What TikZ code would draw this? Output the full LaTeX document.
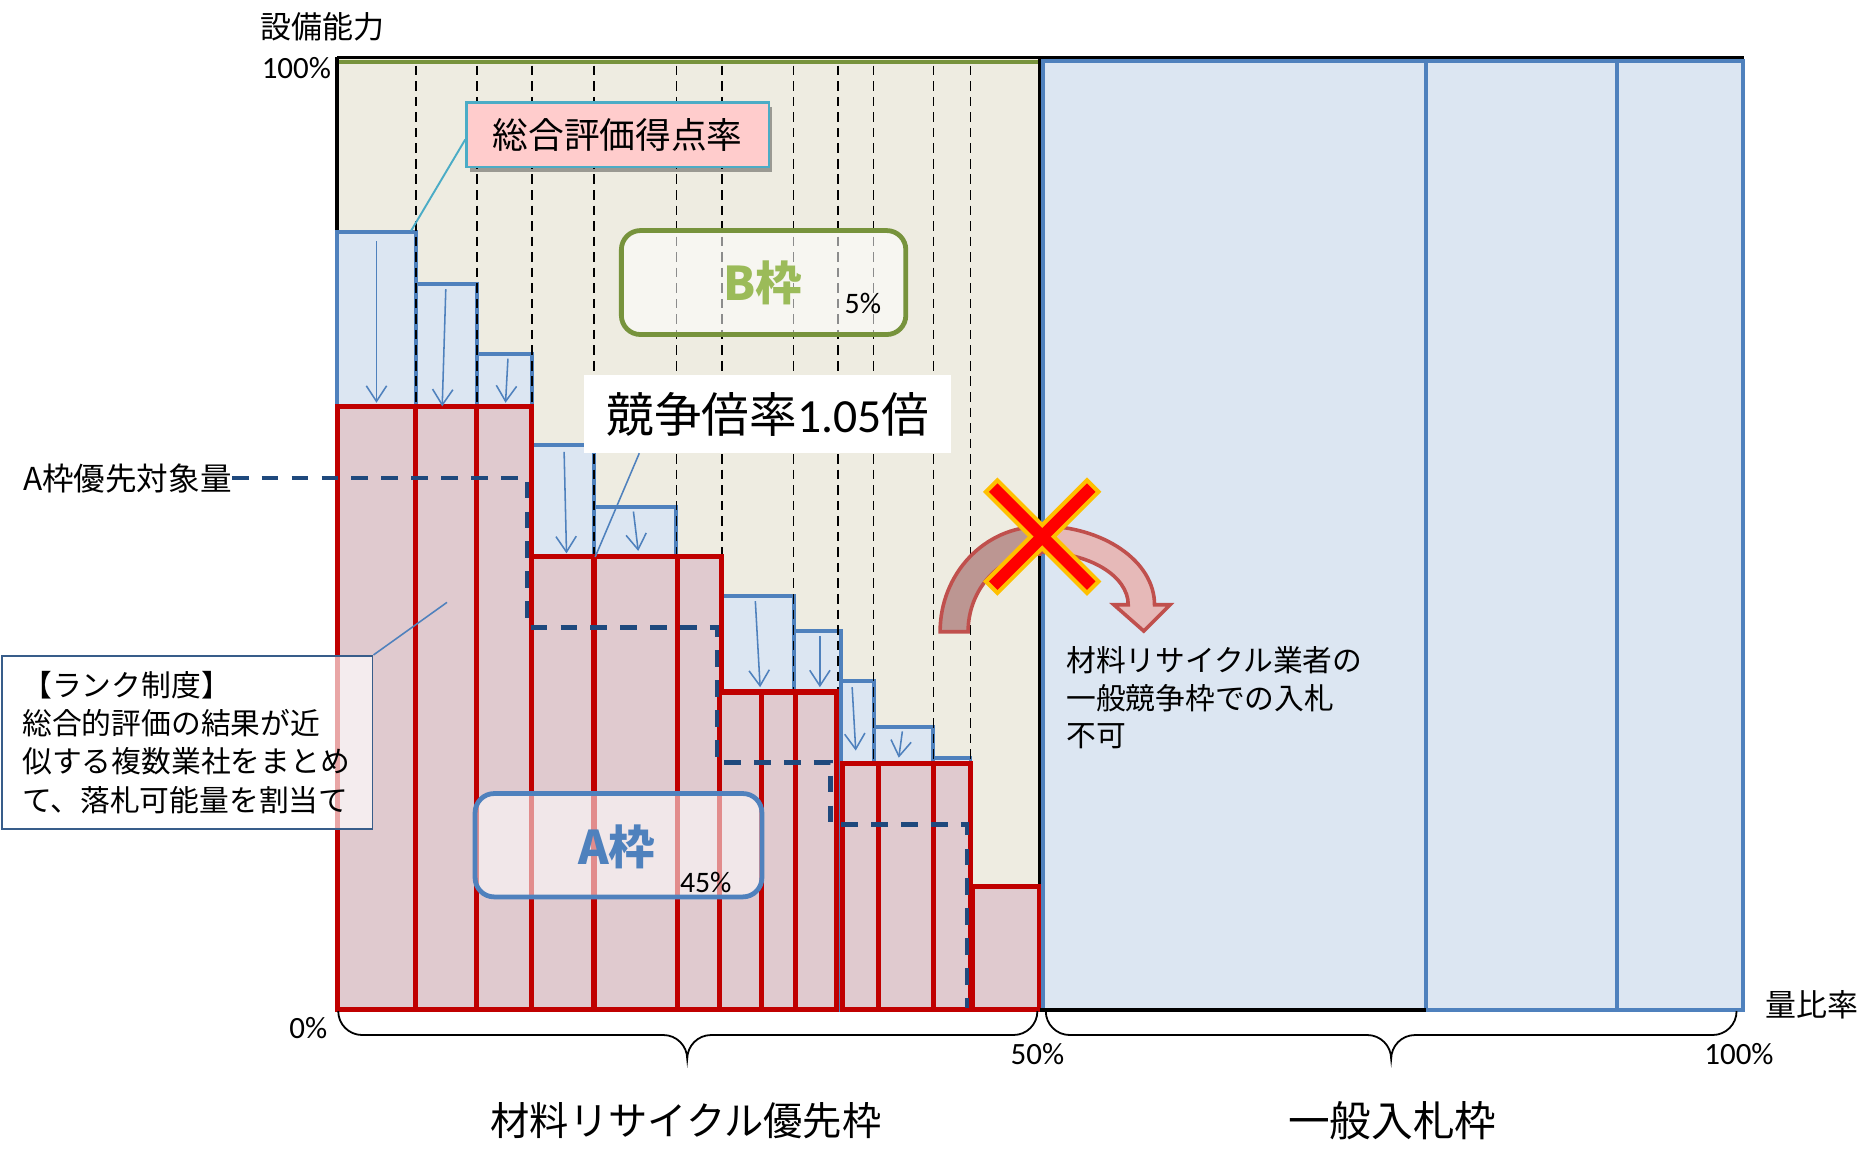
\documentclass[tikz,border=0pt]{standalone}
\usepackage{fontspec}
\setmainfont{Carlito}
\newfontfamily\jp{Noto Sans CJK JP}
\usetikzlibrary{arrows.meta,calc,shadows}

\definecolor{frameBeige}{HTML}{EEECE1}
\definecolor{scoreFill}{HTML}{DCE6F2}
\definecolor{scoreLine}{HTML}{4F81BD}
\definecolor{lotLine}{HTML}{C00000}
\definecolor{lotFill}{HTML}{E0CACF}
\definecolor{targetNavy}{HTML}{1F497D}
\definecolor{bGreen}{HTML}{77933C}
\definecolor{bText}{HTML}{9BBB59}
\definecolor{noteTeal}{HTML}{4BACC6}
\definecolor{notePink}{HTML}{FFCCCC}
\definecolor{bendLine}{HTML}{C0504D}
\definecolor{bendLight}{HTML}{E6B9B8}
\definecolor{bendDark}{HTML}{BC9692}
\definecolor{crossEdge}{HTML}{FFC000}
\definecolor{rankLine}{HTML}{385D8A}

\newcommand{\fsz}[1]{\fontsize{#1}{#1}\selectfont}

\begin{document}
\begin{tikzpicture}[x=1bp,y=-1bp,
    scorebar/.style={draw=scoreLine,fill=scoreFill,line width=3.3bp},
    lotbar/.style={draw=lotLine,fill=lotFill,line width=4.2bp},
    gridline/.style={line width=1.3bp,dash pattern=on 8bp off 5bp},
    drop/.style={scoreLine,line width=1.3bp,-{Straight Barb[length=13bp,width=17bp]}},
    framebox/.style={rounded corners=16bp,line width=4bp,fill=white,fill opacity=0.55,
      text opacity=1,minimum width=238bp,minimum height=87bp},
    txt/.style={inner sep=0pt,text=black}]
  \useasboundingbox (0,0) rectangle (1568,965);

  % priority frame
  \fill[frameBeige] (282,48) rectangle (870,845);
  \draw[line width=3bp] (282,845) -- (282,48) (870,48) -- (870,845) (282,845) -- (1193,845);

  \foreach \xa/\xb/\t in {282/348/194,348/399/238,399/445/296,445/497/372,497/566/424,566/604/466,
      604/664/499,664/704/528,704/731/570,731/781/608,781/812/634}
    \draw[scorebar] (\xa,\t) rectangle (\xb,845);

  \foreach \x in {348,399,445,497,566,604,664,701,731,781,812}
    \draw[gridline] (\x,55) -- (\x,845);
  \draw[bGreen,line width=3.5bp] (283.5,52) -- (868.5,52);

  \foreach \xa/\xb/\t in {282/348/340,348/399/340,399/445/340,445/497/466,497/567/466,567/604/466,
      602/637/579,637/666/579,666/700/579,705/735/639,735/781/639,781/812/639,814/870/742}
    \draw[lotbar] (\xa,\t) rectangle (\xb,845);

  % general frame
  \foreach \xa/\xb in {873/1193,1193/1353,1353/1458}
    \draw[scorebar] (\xa,51) rectangle (\xb,845);
  \draw[line width=3bp] (282,48) -- (1459,48) (870,845) -- (1193,845);

  \foreach \xa/\ya/\xb/\yb in {315/202/315/337,373/242/370/340,425/300/423/337,472/378/474/463,
      530/428/534/461,632/503/636/575,686/532/686/575,713/575/716/628,755/612/752/634}
    \draw[drop] (\xa,\ya) -- (\xb,\yb);

  \node[txt,anchor=east] (prio) at (194,400) {\jp\fsz{26.5}A枠優先対象量};
  \draw[targetNavy,line width=3.7bp,dash pattern=on 14bp off 11bp]
    (prio.east) -- (441,400) -- (441,525) -- (600,525) -- (600,638)
    -- (695,638) -- (695,690) -- (809,690) -- (809,843);

  % bent arrow with cross
  \draw[bendLine,line width=3bp,fill=bendDark]
    (786.6,528.6) arc[start angle=180,end angle=270,x radius=83.4,y radius=88]
    -- (870,463.6) arc[start angle=270,end angle=180,x radius=60,y radius=65] -- cycle;
  \draw[bendLine,line width=3bp,fill=bendLight]
    (870,440) arc[start angle=270,end angle=360,x radius=96,y radius=66]
    -- (979,506) -- (957,528) -- (932,506) -- (944,506)
    arc[start angle=360,end angle=270,x radius=74,y radius=44] -- cycle;
  \begin{scope}[shift={(872,449)}]
    \foreach \a in {45,-45}
      \draw[crossEdge,line width=7bp,rotate=\a] (-58,-5) rectangle (58,5);
    \foreach \a in {45,-45}
      \fill[red,rotate=\a] (-58,-5) rectangle (58,5);
  \end{scope}

  \coordinate (topfirst) at (344,193);
  \node[txt,draw=noteTeal,line width=2bp,fill=notePink,minimum width=253bp,minimum height=54bp,
      drop shadow={shadow xshift=3bp,shadow yshift=-4bp,opacity=0.35,fill=black}]
      (score) at (516.8,112.7) {\jp\fsz{30}総合評価得点率};
  \draw[noteTeal,line width=1.6bp] ([yshift=-4bp]score.west) -- (topfirst);

  \node[framebox,draw=bGreen] (bframe) at (638.9,236.4) {};
  \node[txt,text=bText] (bname) at (638,237) {\jp\bfseries\fsz{39}B枠};
  \node[txt] (bshare) at (722,254) {\fsz{25}5\%};

  \node[txt,fill=white,minimum width=307bp,minimum height=65bp] (ratio) at (642.5,346.5)
    {\fsz{40}{\jp 競争倍率}1.05{\jp 倍}};
  \coordinate (secondtop) at (498,466);
  \draw[scoreLine,line width=1.3bp] ($(ratio.south west)!0.15!(ratio.south east)$) -- (secondtop);

  \node[framebox,draw=scoreLine,minimum width=240bp,minimum height=86.5bp] (aframe) at (517.5,707.2) {};
  \node[txt,text=scoreLine] (aname) at (516,708.5) {\jp\bfseries\fsz{39}A枠};
  \node[txt] (ashare) at (590.5,738) {\fsz{25}45\%};

  \node[txt,draw=rankLine,line width=1.5bp,fill=white,fill opacity=0.65,text opacity=1,
      anchor=north west,minimum width=309.5bp,minimum height=145bp,
      text width=276bp,inner xsep=17bp,align=left,font=\jp\fontsize{25}{32}\selectfont] (rank) at (1,548)
    {【ランク制度】\\総合的評価の結果が近\\似する複数業社をまとめ\\て、落札可能量を割当て};
  \coordinate (rankfoot) at (374,504);
  \draw[scoreLine,line width=1.3bp] (rank.north east) -- (rankfoot);

  \node[txt,anchor=north west,align=left,font=\jp\fontsize{25}{31.5}\selectfont] (nogo) at (892,541)
    {材料リサイクル業者の\\一般競争枠での入札\\不可};

  \node[txt] (ylabel) at (270,22) {\jp\fsz{26}設備能力};
  \node[txt] (ytop) at (248,57) {\fsz{26}100\%};
  \node[txt] (xzero) at (258,860) {\fsz{26}0\%};
  \node[txt] (xhalf) at (868,882) {\fsz{26}50\%};
  \node[txt] (xfull) at (1455,882) {\fsz{26}100\%};
  \node[txt] (xlabel) at (1516,841) {\jp\fsz{26}量比率};

  \draw[line width=1.5bp] (283,846) arc[start angle=180,end angle=90,radius=20] -- (555,866)
    arc[start angle=270,end angle=360,radius=20] arc[start angle=180,end angle=270,radius=20]
    -- (848,866) arc[start angle=90,end angle=0,radius=20];
  \draw[line width=1.5bp] (875,846) arc[start angle=180,end angle=90,radius=20] -- (1144,866)
    arc[start angle=270,end angle=360,radius=20] arc[start angle=180,end angle=270,radius=20]
    -- (1433,866) arc[start angle=90,end angle=0,radius=20];

  \node[txt] (prioname) at (574,938) {\jp\fsz{33}材料リサイクル優先枠};
  \node[txt] (genname) at (1165,938) {\jp\fsz{35}一般入札枠};
\end{tikzpicture}
\end{document}
